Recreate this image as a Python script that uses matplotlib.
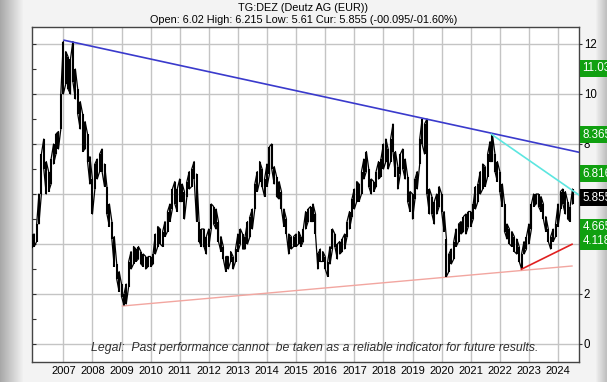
import numpy as np
import pandas as pd
import matplotlib
matplotlib.use("Agg")
import matplotlib.pyplot as plt
import matplotlib.transforms as mtransforms

plt.rcParams['font.family'] = ['Liberation Sans', 'DejaVu Sans']

# monthly low / high of the share price, first month Dec 2005
first_month = '2005-12-01'
price_lo = [3.85,
    3.9, 4.1, 4.8, 6.0, 7.0, 6.0, 6.1, 6.4, 7.2, 7.6, 7.8, 8.6,
    10.0, 10.4, 10.2, 10.0, 10.5, 9.8, 9.2, 8.6, 7.7, 7.8, 7.3, 6.4,
    5.2, 6.2, 6.6, 6.9, 6.9, 6.3, 5.2, 4.7, 4.2, 3.1, 2.6, 2.1,
    1.9, 1.55, 1.6, 2.3, 3.0, 3.2, 3.3, 3.4, 3.2, 3.1, 3.0, 3.1,
    3.1, 3.2, 3.6, 3.9, 4.0, 3.9, 4.3, 4.5, 4.9, 5.4, 5.6, 5.3,
    5.7, 5.7, 5.0, 5.9, 6.2, 6.3, 6.6, 4.9, 4.1, 3.9, 3.9, 3.6,
    3.9, 4.6, 4.8, 4.6, 4.1, 3.7, 3.4, 2.9, 3.0, 3.3, 3.0, 3.3,
    3.7, 4.0, 3.8, 3.8, 4.0, 4.3, 4.6, 5.4, 6.1, 6.5, 6.3, 5.9,
    6.3, 6.8, 7.0, 6.4, 5.9, 5.8, 5.4, 4.7, 4.4, 3.6, 3.8, 3.9,
    3.9, 4.0, 3.9, 4.1, 4.6, 4.9, 4.9, 4.9, 4.4, 3.0, 3.3, 3.3,
    3.0, 2.7, 3.2, 3.8, 3.9, 3.4, 3.6, 3.7, 3.8, 4.3, 4.6, 5.1,
    5.4, 5.7, 5.7, 6.0, 6.6, 6.9, 6.3, 6.0, 6.1, 6.3, 6.6, 6.7,
    7.0, 7.3, 7.0, 7.3, 7.7, 6.7, 6.2, 6.8, 7.0, 6.6, 5.7, 5.3,
    5.0, 5.8, 6.2, 7.2, 8.0, 7.6, 6.0, 5.2, 5.2, 4.8, 5.2, 5.5,
    5.3, 4.5, 2.7, 2.9, 3.2, 3.4, 3.9, 4.1, 4.4, 4.5, 4.4, 4.7,
    4.7, 5.0, 5.4, 5.7, 6.0, 6.2, 6.3, 6.7, 7.3, 7.3, 6.9, 6.5,
    6.1, 5.5, 4.5, 4.2, 4.0, 3.9, 3.7, 3.6, 3.3, 3.0, 3.6, 3.8,
    4.0, 4.6, 5.5, 5.6, 5.5, 5.3, 5.0, 4.5, 4.1, 3.8, 4.1, 4.3,
    4.7, 5.4, 5.6, 5.2, 5.0, 4.9, 5.6]
price_hi = [4.35,
    4.4, 4.8, 6.0, 7.6, 8.2, 7.3, 6.9, 7.4, 8.0, 8.4, 8.5, 10.0,
    12.1, 11.7, 11.5, 11.4, 12.1, 11.0, 10.2, 9.7, 9.2, 8.9, 8.4, 7.5,
    6.6, 7.2, 7.4, 7.6, 7.8, 7.2, 6.3, 5.6, 4.9, 4.3, 3.2, 2.9,
    2.4, 2.0, 2.4, 3.3, 3.7, 3.9, 3.8, 3.9, 3.7, 3.6, 3.5, 3.5,
    3.5, 3.6, 4.4, 4.7, 4.6, 4.5, 4.9, 5.3, 5.6, 6.2, 6.5, 6.2,
    6.6, 6.4, 6.1, 6.5, 6.9, 7.0, 7.3, 6.8, 4.9, 4.6, 4.6, 4.3,
    4.6, 5.6, 5.5, 5.4, 4.9, 4.3, 3.9, 3.5, 3.5, 3.7, 3.5, 3.8,
    4.4, 4.6, 4.4, 4.3, 4.9, 5.1, 5.4, 6.4, 6.9, 7.3, 7.0, 6.6,
    7.2, 7.9, 8.0, 7.1, 6.7, 6.5, 6.1, 5.4, 5.0, 4.4, 4.3, 4.3,
    4.4, 4.5, 4.3, 4.6, 5.3, 5.4, 5.5, 5.6, 5.2, 3.6, 3.8, 3.7,
    3.5, 3.3, 3.9, 4.6, 4.4, 4.0, 4.1, 4.2, 4.4, 4.9, 5.3, 5.8,
    6.2, 6.5, 6.4, 6.9, 7.4, 7.7, 7.0, 6.6, 6.5, 6.9, 7.3, 7.4,
    8.0, 8.2, 7.8, 8.2, 8.8, 7.7, 7.1, 7.6, 7.8, 7.4, 6.7, 6.1,
    6.0, 6.6, 6.9, 8.2, 9.0, 8.8, 9.0, 6.2, 5.9, 5.7, 6.0, 6.3,
    6.0, 5.3, 4.2, 3.6, 3.8, 4.1, 4.6, 4.8, 4.9, 5.1, 5.2, 5.3,
    5.3, 5.6, 6.3, 6.4, 6.9, 7.2, 7.1, 7.6, 8.1, 8.36, 7.6, 7.3,
    6.9, 6.4, 5.6, 4.8, 4.6, 4.5, 4.3, 4.2, 3.9, 3.6, 4.1, 4.3,
    4.8, 5.6, 6.0, 6.0, 6.0, 5.9, 5.6, 5.1, 4.6, 4.3, 4.6, 4.8,
    5.6, 6.1, 6.2, 6.1, 5.7, 5.5, 6.2]

# trend lines: (decimal year, price) end points
blue_line = ([2007.03, 2024.72], [12.15, 7.67])
cyan_line = ([2021.71, 2024.72], [8.39, 5.96])
red_line = ([2022.74, 2024.48], [2.99, 3.99])
pink_line = ([2009.03, 2024.48], [1.52, 3.12])

# price labels on the right
level_values = [11.03, 8.365, 6.816, 4.665, 4.118]
level_texts = ['11.03', '8.365', '6.816', '4.665', '4.118']
current_value = 5.855
current_text = '5.855'

years = list(range(2007, 2025))
right_ticks = [0, 2, 8, 10, 12]

title1 = 'TG:DEZ (Deutz AG (EUR))'
title2 = 'Open: 6.02 High: 6.215 Low: 5.61 Cur: 5.855 (-00.095/-01.60%)'
legal = 'Legal:  Past performance cannot  be taken as a reliable indicator for future results.'

dates = pd.date_range(first_month, periods=len(price_lo), freq='MS')
t = np.asarray(dates.year + (dates.dayofyear - 1) / 365.25)
lo = np.asarray(price_lo)
hi = np.asarray(price_hi)

# zig-zag path: up inside one month, down inside the next
zx = np.repeat(t, 2)
zy = np.empty(2 * len(t))
up = np.arange(len(t)) % 2 == 0
zy[0::2] = np.where(up, lo, hi)
zy[1::2] = np.where(up, hi, lo)

fig = plt.figure(figsize=(6.07, 3.82), dpi=100)

# grey frame with a shaded left edge
bg = fig.add_axes([0, 0, 1, 1], zorder=-5)
col = np.full(607, 0.95)
col[:24] = np.linspace(0.66, 0.95, 24)
col[596:] = np.linspace(0.93, 0.75, 11)
grad = np.tile(col, (382, 1))
bg.imshow(grad, cmap='gray', vmin=0, vmax=1, aspect='auto', extent=[0, 1, 0, 1])
bg.set_axis_off()

ax = fig.add_axes([32 / 607, 1 - 362 / 382, 547 / 607, 335 / 382])
ax.set_facecolor('white')
ax.set_xlim(2005.924, 2024.72)
ax.set_ylim(-0.72, 12.68)

for yr in years:
    ax.axvline(yr, color='#c4c4c4', lw=1.0, zorder=0)
for v in range(0, 13, 2):
    ax.axhline(v, color='#c4c4c4', lw=1.0, zorder=0)

ax.vlines(t, lo, hi, color='black', lw=1.5, zorder=3)
ax.plot(zx, zy, color='black', lw=0.9, zorder=3)

ax.plot(*pink_line, color='#f2a6a0', lw=1.0, zorder=2)
ax.plot(*blue_line, color='#3a3acc', lw=1.2, zorder=4)
ax.plot(*cyan_line, color='#5ce6e0', lw=1.2, zorder=4)
ax.plot(*red_line, color='#e02020', lw=1.2, zorder=4)

ax.set_xticks(years)
ax.set_xticklabels([str(y) for y in years], fontsize=8)
ax.tick_params(axis='x', length=0, pad=3)
ax.set_yticks(range(0, 13))
ax.tick_params(axis='y', direction='in', length=3, left=True, right=True,
               labelleft=False, labelright=False, color='#333333')
for s in ax.spines.values():
    s.set_color('#444444')
    s.set_linewidth(1.0)

ax2 = ax.twinx()
ax2.set_ylim(ax.get_ylim())
ax2.set_yticks(right_ticks)
ax2.set_yticklabels([str(v) for v in right_ticks], fontsize=8.3)
ax2.tick_params(axis='y', direction='out', length=2.5, pad=1, color='#333333')
for s in ax2.spines.values():
    s.set_visible(False)

trans = mtransforms.blended_transform_factory(ax.transAxes, ax.transData)
for v, s in zip(level_values, level_texts):
    ax2.text(1.006, v, s, transform=trans, fontsize=8.4, color='white',
             va='center', ha='left', clip_on=False, zorder=10,
             bbox=dict(boxstyle='square,pad=0.22', fc='#10a010', ec='none'))
ax2.text(1.006, current_value, current_text, transform=trans, fontsize=8.4,
         color='white', va='center', ha='left', clip_on=False, zorder=10,
         bbox=dict(boxstyle='square,pad=0.22', fc='black', ec='none'))

ax.text(0.516, 0.042, legal, transform=ax.transAxes, fontsize=8.8,
        style='italic', color='#303030', ha='center', va='center', zorder=6)

fig.text(0.5, 1 - 8 / 382, title1, ha='center', va='center', fontsize=7.8)
fig.text(0.5, 1 - 20 / 382, title2, ha='center', va='center', fontsize=7.8)

fig.savefig('out.png', dpi=100)
